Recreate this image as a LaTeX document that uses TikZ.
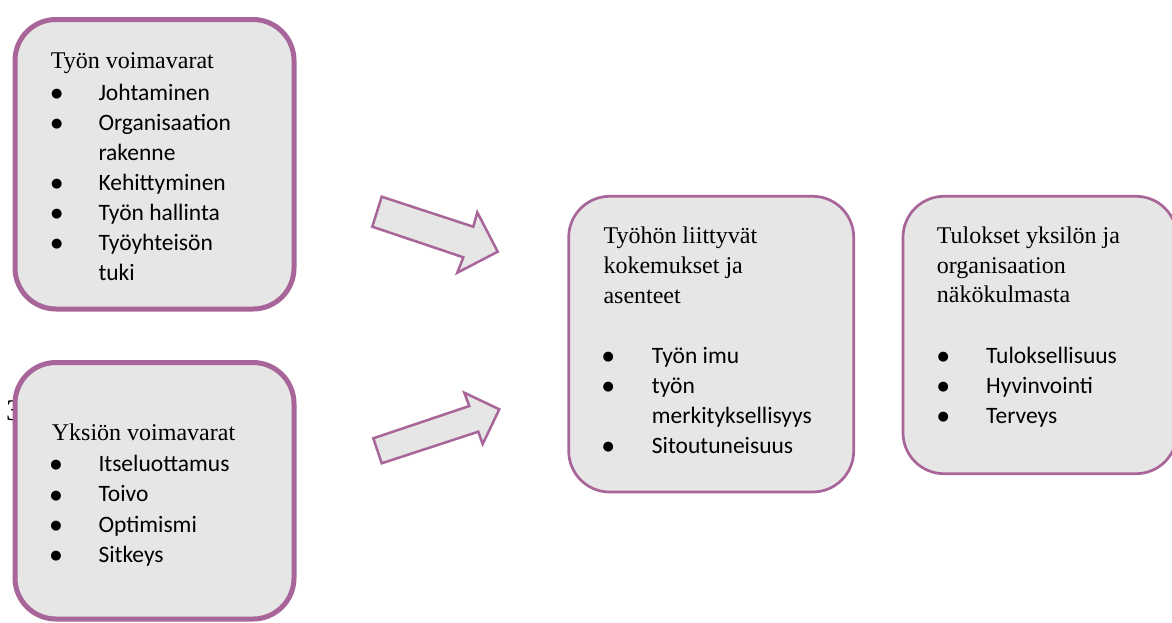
\documentclass[tikz,border=0pt]{standalone}
\usepackage{fontspec}
\setmainfont{Liberation Serif}
\newfontfamily\calib{Carlito}
\newfontfamily\dejavu{DejaVu Sans}
\definecolor{frame}{RGB}{168,101,153}
\definecolor{boxfill}{RGB}{230,230,230}
\begin{document}
\begin{tikzpicture}[x=1pt,y=-1pt,
  box/.style={draw=frame, fill=boxfill, rounded corners=41pt, inner sep=0pt, outer sep=0pt},
  head/.style={anchor=base west, inner sep=0pt, font=\fontsize{24}{30}\selectfont},
  item/.style={anchor=base west, inner sep=0pt, font=\calib\fontsize{23.5}{30}\selectfont},
  bul/.style={anchor=center, inner sep=0pt, font=\dejavu\fontsize{13}{14}\selectfont},
  blockarrow/.style={draw=frame, fill=boxfill, line width=2.5pt, line join=miter}]
\useasboundingbox (0,0) rectangle (1172,622);
\clip (0,0) rectangle (1172,622);
% stray digit behind lower-left box
\node[anchor=base west, inner sep=0pt, font=\fontsize{30}{32}\selectfont] (stray) at (6,420) {3};
% boxes
\node[box, line width=5pt, minimum width=279pt, minimum height=289.5pt] (b1) at (154.5,164.25) {};
\node[box, line width=5pt, minimum width=279pt, minimum height=256.5pt] (b2) at (154.5,490.75) {};
\node[box, line width=2.7pt, minimum width=285pt, minimum height=295.7pt] (b3) at (711.2,344.15) {};
\node[box, line width=2.7pt, minimum width=274pt, minimum height=277.4pt] (b4) at (1040,335) {};
% arrows
\draw[blockarrow] (381.7,196.7) -- (473.3,226.7) -- (477.3,212.3) -- (497.7,251.7) -- (457.3,272.7) -- (463.3,257.3) -- (372.3,226.7) -- cycle;
\draw[blockarrow] (373.3,438.3) -- (469.3,406) -- (464.3,392.7) -- (499.3,409.3) -- (482.7,444) -- (478.3,431.7) -- (381.7,463.3) -- cycle;
% box 1 text
\node[head] (h1) at (50.7,68.3) {Työn voimavarat};
\node[item] (i11) at (98.3,100) {Johtaminen};
\node[item] (i12) at (98.3,130) {Organisaation};
\node[item] (i12b) at (98.3,160) {rakenne};
\node[item] (i13) at (98.3,190) {Kehittyminen};
\node[item] (i14) at (98.3,220) {Työn hallinta};
\node[item] (i15) at (98.3,250) {Työyhteisön};
\node[item] (i15b) at (98.3,280) {tuki};
\foreach \y/\n in {100/a,130/b,190/c,220/d,250/e}
  \node[bul] (p1\n) at (56.7,\y-5.5) {●};
% box 2 text
\node[head] (h2) at (51.7,440.7) {Yksiön voimavarat};
\node[item] (i21) at (98.3,471) {Itseluottamus};
\node[item] (i22) at (98.3,501.5) {Toivo};
\node[item] (i23) at (98.3,532) {Optimismi};
\node[item] (i24) at (98.3,562) {Sitkeys};
\foreach \y/\n in {471/a,501.5/b,532/c,562/d}
  \node[bul] (p2\n) at (56,\y-5.5) {●};
% box 3 text
\node[head] (h3a) at (603.3,243) {Työhön liittyvät};
\node[head] (h3b) at (603.3,273) {kokemukset ja};
\node[head] (h3c) at (603.3,303) {asenteet};
\node[item] (i31) at (651.7,363) {Työn imu};
\node[item] (i32) at (651.7,393) {työn};
\node[item] (i32b) at (651.7,423) {merkityksellisyys};
\node[item] (i33) at (651.7,453) {Sitoutuneisuus};
\foreach \y/\n in {363/a,393/b,453/c}
  \node[bul] (p3\n) at (608.3,\y-5.5) {●};
% box 4 text
\node[head] (h4a) at (936.7,243) {Tulokset yksilön ja};
\node[head] (h4b) at (936.7,273) {organisaation};
\node[head] (h4c) at (936.7,302) {näkökulmasta};
\node[item] (i41) at (986,363) {Tuloksellisuus};
\node[item] (i42) at (986,393) {Hyvinvointi};
\node[item] (i43) at (986,423) {Terveys};
\foreach \y/\n in {363/a,393/b,423/c}
  \node[bul] (p4\n) at (943.3,\y-5.5) {●};
\end{tikzpicture}
\end{document}
